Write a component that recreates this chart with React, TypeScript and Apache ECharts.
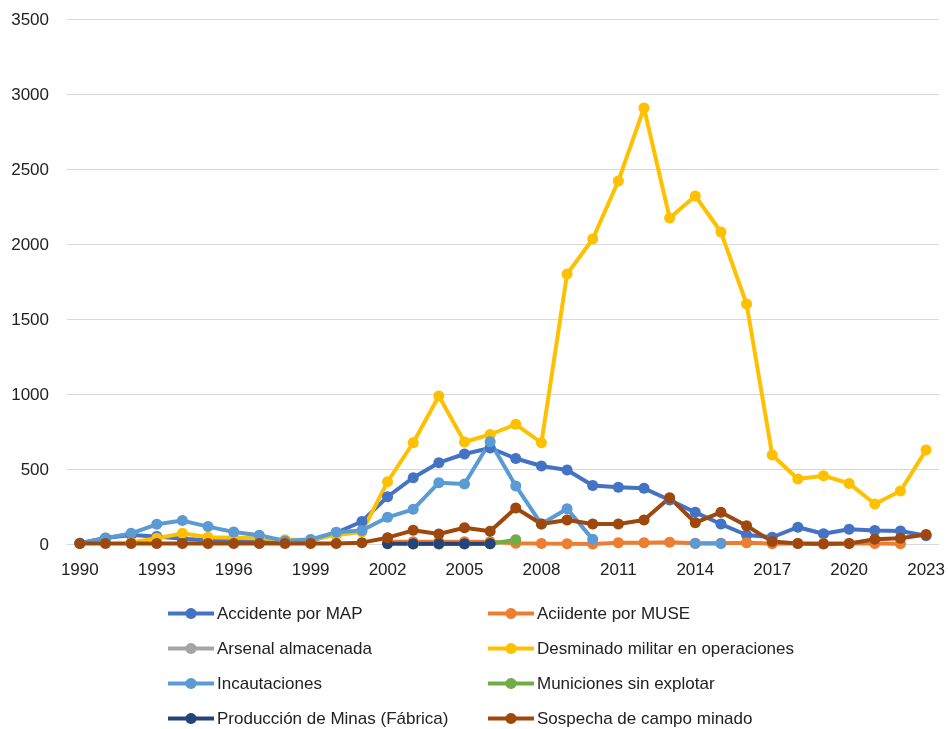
import React, { useEffect, useRef } from "react";
import * as echarts from "echarts";

const years = [
  1990, 1991, 1992, 1993, 1994, 1995, 1996, 1997, 1998, 1999, 2000, 2001,
  2002, 2003, 2004, 2005, 2006, 2007, 2008, 2009, 2010, 2011, 2012, 2013,
  2014, 2015, 2016, 2017, 2018, 2019, 2020, 2021, 2022, 2023,
];
const tickLabels = [1990, 1993, 1996, 1999, 2002, 2005, 2008, 2011, 2014, 2017, 2020, 2023];

type V = number | null;
const accidenteMAP: V[] = [
  5, 40, 60, 50, 35, 25, 20, 15, 15, 20, 75, 150,
  315, 442, 542, 600, 640, 570, 520, 493, 390, 378, 371, 293,
  211, 133, 60, 45, 112, 68, 98, 90, 87, 55,
];
const accidenteMUSE: V[] = [
  null, null, null, null, null, null, null, null, null, null, null, null,
  15, 15, 15, 15, 15, 5, 3, 2, 0, 9, 9, 12,
  5, 5, 9, 2, 3, 3, 3, 4, 2, null,
];
const arsenal: V[] = [
  null, null, null, null, null, null, null, null, null, null, null, null,
  null, 0, null, null, null, null, null, null, null, null, null, null,
  null, null, null, null, null, null, null, null, null, null,
];
const desminado: V[] = [
  null, null, 10, 38, 71, 45, 42, 38, 28, 28, 60, 80,
  415, 675, 987, 680, 730, 798, 675, 1800, 2033, 2420, 2907, 2173,
  2320, 2080, 1600, 593, 433, 455, 404, 267, 353, 627,
];
const incautaciones: V[] = [
  5, 38, 71, 131, 156, 116, 80, 58, 20, 30, 78, 90,
  178, 231, 409, 400, 682, 387, 133, 235, 31, null, null, null,
  4, 4, null, null, null, null, null, null, null, null,
];
const municiones: V[] = [
  null, null, null, null, null, null, null, null, null, null, null, null,
  null, 0, 0, 0, 2, 28, null, null, null, null, null, null,
  null, null, null, null, null, null, null, null, null, null,
];
const produccion: V[] = [
  null, null, null, null, null, null, null, null, null, null, null, null,
  2, 2, 2, 2, 2, null, null, null, null, null, null, null,
  null, null, null, null, null, null, null, null, null, null,
];
const sospecha: V[] = [
  3, 3, 3, 3, 3, 3, 3, 3, 3, 3, 3, 9,
  42, 91, 67, 108, 85, 240, 133, 160, 133, 133, 160, 309,
  142, 211, 122, 16, 4, 0, 4, 31, 38, 64,
];

const seriesNames = [
  "Accidente por MAP",
  "Aciidente por MUSE",
  "Arsenal almacenada",
  "Desminado militar en operaciones",
  "Incautaciones",
  "Municiones sin explotar",
  "Producción de Minas (Fábrica)",
  "Sospecha de campo minado",
];
const seriesData = [
  accidenteMAP, accidenteMUSE, arsenal, desminado,
  incautaciones, municiones, produccion, sospecha,
];
const seriesColors = [
  "#4472C4", "#ED7D31", "#A5A5A5", "#FFC000",
  "#5B9BD5", "#70AD47", "#264478", "#9E480E",
];

const FONT = "'Liberation Sans', Arial, sans-serif";
const TEXT = "#222222";

export default function App() {
  const ref = useRef<HTMLDivElement>(null);
  useEffect(() => {
    if (!ref.current) return;
    const chart = echarts.init(ref.current, undefined, { renderer: "svg" });
    const legendCommon = {
      orient: "vertical",
      height: 160,
      itemWidth: 46,
      itemHeight: 14,
      itemGap: 18,
      padding: 0,
      lineStyle: { width: 4 },
      textStyle: { fontSize: 17, color: TEXT, fontFamily: FONT, padding: [0, 0, 0, -2] },
      selectedMode: false,
    };
    chart.setOption({
      animation: false,
      textStyle: { fontFamily: FONT },
      grid: { left: 67, right: 6, top: 19, bottom: 185 },
      xAxis: {
        type: "value",
        min: 1989.5,
        max: 2023.5,
        splitLine: { show: false },
        axisTick: { show: false },
        axisLine: { show: true, lineStyle: { color: "#D9D9D9", width: 1 } },
        axisLabel: {
          customValues: tickLabels,
          formatter: (v: number) => String(v),
          fontSize: 17,
          color: TEXT,
          margin: 17,
          fontFamily: FONT,
        },
      },
      yAxis: {
        type: "value",
        min: 0,
        max: 3500,
        interval: 500,
        axisLine: { show: false },
        axisTick: { show: false },
        splitLine: { lineStyle: { color: "#D9D9D9", width: 1 } },
        axisLabel: {
          fontSize: 17,
          color: TEXT,
          margin: 18,
          fontFamily: FONT,
          formatter: (v: number) => String(v),
        },
      },
      legend: [
        { ...legendCommon, left: 166, top: 605, data: [0, 2, 4, 6].map((i) => seriesNames[i]) },
        { ...legendCommon, left: 486, top: 605, data: [1, 3, 5, 7].map((i) => seriesNames[i]) },
      ],
      series: seriesNames.map((name, si) => ({
        name,
        type: "line",
        symbol: "circle",
        symbolSize: 11,
        showSymbol: true,
        connectNulls: false,
        color: seriesColors[si],
        lineStyle: { width: 4, color: seriesColors[si] },
        itemStyle: { color: seriesColors[si] },
        data: years.map((y, i) => [y, seriesData[si][i] === null ? "-" : seriesData[si][i]]),
      })),
    });
    return () => chart.dispose();
  }, []);
  return (
    <div
      ref={ref}
      style={{ position: "fixed", left: 0, top: 0, width: 948, height: 729 }}
    />
  );
}
